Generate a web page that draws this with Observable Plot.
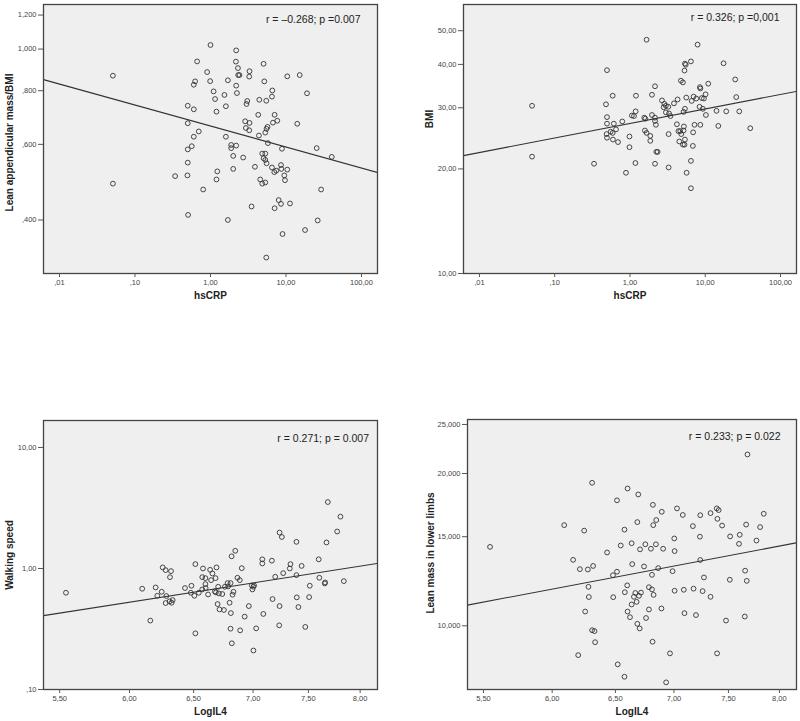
<!DOCTYPE html>
<html><head><meta charset="utf-8">
<script src="https://cdn.jsdelivr.net/npm/d3@7"></script>
<script src="https://cdn.jsdelivr.net/npm/@observablehq/plot@0.6"></script>
<style>
body{margin:0;background:#fff;}
#wrap{position:relative;width:800px;height:721px;font-family:"Liberation Sans",Arial,sans-serif;}
.panel{position:absolute;}
.panel svg{overflow:visible;}
</style></head><body><div id="wrap"></div>
<script>
// ---------- Panel 1: hsCRP vs Lean appendicular mass/BMI ----------
const p1_hsCRP = [0.051,0.051,1.00,2.19,0.665,2.17,0.903,2.31,2.33,2.42,
3.29,3.26,5.05,0.626,0.99,0.601,1.70,2.19,5.16,10.4,
15.2,1.10,2.24,1.53,1.15,6.59,6.52,19.0,4.43,3.07,
3.00,5.48,0.50,0.601,1.60,1.20,4.29,7.07,7.67,2.88,
3.29,6.72,0.50,14.1,2.94,3.26,5.53,5.70,5.32,0.70,
0.601,1.60,4.38,5.76,0.565,0.50,1.88,2.19,1.88,8.85,
25.5,2.00,2.71,4.85,5.32,5.05,5.32,5.53,40.4,0.50,
3.88,6.52,7.43,7.00,8.59,8.67,10.4,2.00,1.23,0.34,
0.495,9.5,1.20,4.56,9.7,4.85,5.32,0.80,29.2,8.0,
8.59,11.3,3.50,7.07,0.505,1.70,26.3,17.9,9.0,5.48];
const p1_leanBMI = [0.867,0.486,1.022,0.993,0.936,0.935,0.884,0.903,0.870,0.870,
0.888,0.863,0.924,0.841,0.842,0.826,0.846,0.822,0.841,0.864,
0.870,0.797,0.790,0.782,0.765,0.801,0.775,0.789,0.762,0.757,
0.745,0.758,0.738,0.724,0.736,0.715,0.703,0.703,0.681,0.679,
0.673,0.674,0.672,0.670,0.655,0.647,0.652,0.659,0.639,0.643,
0.625,0.625,0.629,0.604,0.594,0.584,0.598,0.596,0.588,0.586,
0.588,0.564,0.559,0.571,0.571,0.557,0.552,0.542,0.561,0.544,
0.532,0.530,0.521,0.517,0.537,0.526,0.524,0.526,0.519,0.506,
0.508,0.508,0.497,0.497,0.495,0.486,0.489,0.471,0.471,0.445,
0.436,0.437,0.430,0.426,0.411,0.400,0.399,0.379,0.371,0.327];
const p1_fit = [-0.1792, -0.04888]; // log10(y) = a + b*log10(x)
const p1_note = "r = \u20130.268; p =0.007";

// ---------- Panel 2: hsCRP vs BMI ----------
const p2_hsCRP = [0.050,0.050,1.66,7.91,0.495,5.37,5.5,6.45,5.3,17.5,
4.75,5.05,10.96,25.0,2.15,8.5,8.6,0.589,1.20,1.96,
4.29,5.6,7.0,7.6,9.0,10.1,25.8,6.6,9.6,2.66,
2.86,3.0,3.23,3.84,0.48,2.8,3.0,3.3,3.45,5.37,
5.15,8.4,9.3,10.2,14.1,19.0,28.3,1.13,1.06,1.19,
1.96,1.55,1.6,2.15,2.15,0.495,0.79,0.61,0.495,2.21,
4.2,7.2,8.6,14.9,5.2,0.652,0.554,0.589,0.489,0.495,
39.6,1.58,1.66,1.86,3.26,4.4,4.65,4.8,5.15,6.9,
0.985,0.594,0.693,1.86,4.52,5.37,5.05,5.3,6.85,0.985,
2.24,2.33,0.333,1.18,2.15,6.45,3.26,0.885,5.65,6.45];
const p2_BMI = [30.4,21.7,47.1,45.6,38.5,40.2,39.9,40.8,38.4,40.3,
35.9,35.5,35.2,36.2,34.6,34.4,34.1,32.5,32.5,32.7,
31.7,32.1,32.3,31.9,32.0,32.8,32.2,31.4,31.9,31.5,
30.8,30.4,30.2,30.9,30.7,30.1,29.1,28.9,28.4,29.8,
29.2,30.2,29.8,28.6,29.4,29.3,29.3,28.4,28.5,29.3,
28.6,28.1,27.9,28.1,27.5,28.2,27.4,27.0,27.0,26.8,
26.9,26.8,26.8,26.6,26.5,26.0,25.6,25.4,25.2,24.6,
26.2,25.8,25.4,24.9,25.2,25.7,25.7,25.2,25.8,25.5,
24.8,24.3,23.9,24.1,24.0,24.3,23.5,23.5,23.3,23.1,
22.4,22.4,20.7,20.8,20.7,21.1,20.2,19.5,19.5,17.6];
const p2_fit = [1.4319, 0.04182];
const p2_note = "r = 0.326; p =0,001";

// ---------- Panel 3: LogIL4 vs Walking speed ----------
const p3_logIL4 = [5.543,6.096,6.158,6.199,6.212,6.246,6.254,6.277,6.282,6.277,
6.311,6.319,6.308,6.324,6.332,6.430,6.482,6.477,6.506,6.514,
6.514,6.542,6.570,6.576,6.570,6.596,6.596,6.598,6.618,6.635,
6.643,6.654,6.674,6.683,6.688,6.680,6.702,6.697,6.713,6.708,
6.736,6.750,6.758,6.781,6.786,6.798,6.806,6.806,6.809,6.815,
6.817,6.823,6.831,6.846,6.865,6.885,6.888,6.902,6.927,6.963,
6.989,6.994,7.003,7.009,7.027,7.081,7.081,7.090,7.166,7.172,
7.196,7.235,7.256,7.235,7.232,7.268,7.328,7.334,7.389,7.389,
7.392,7.407,7.437,7.471,7.513,7.507,7.597,7.603,7.655,7.658,
7.671,7.684,7.774,7.806,7.839,7.003];
const p3_walk = [0.630,0.680,0.371,0.697,0.595,0.642,1.02,0.969,0.592,0.518,
0.848,0.951,0.535,0.521,0.548,0.689,0.720,0.630,0.595,1.086,
0.291,0.630,0.671,1.00,0.848,0.832,0.743,0.689,0.610,0.975,
0.801,0.909,0.646,0.634,1.02,0.832,0.706,0.508,0.459,0.622,
0.615,0.454,0.706,0.757,0.711,0.521,0.757,0.318,0.428,1.26,
0.241,0.607,0.642,1.40,0.838,0.801,0.308,1.006,0.400,0.489,
0.724,0.671,0.210,0.724,0.320,1.10,1.19,0.421,1.16,0.559,
0.854,1.98,1.82,0.489,0.339,0.915,1.00,1.086,1.66,0.881,
0.577,0.480,1.05,0.329,0.720,0.580,1.19,0.838,0.752,0.767,
1.64,3.54,2.02,2.68,0.786,0.706];
const p3_fit = [-2.1332, 2.383];
const p3_note = "r = 0.271; p = 0.007";

// ---------- Panel 4: LogIL4 vs Lean mass in lower limbs ----------
const p4_logIL4 = [5.546,6.092,6.161,6.214,6.201,6.248,6.256,6.277,6.282,6.285,
6.311,6.319,6.311,6.330,6.335,6.432,6.480,6.482,6.513,6.513,
6.519,6.544,6.575,6.575,6.578,6.598,6.601,6.601,6.621,6.635,
6.635,6.640,6.654,6.666,6.677,6.683,6.683,6.691,6.697,6.703,
6.706,6.714,6.740,6.751,6.757,6.782,6.782,6.799,6.808,6.808,
6.816,6.819,6.822,6.813,6.842,6.845,6.862,6.890,6.893,6.905,
6.965,6.931,6.988,7.003,7.006,7.006,7.027,7.079,7.088,7.094,
7.170,7.176,7.198,7.234,7.237,7.237,7.259,7.271,7.332,7.332,
7.390,7.396,7.408,7.393,7.440,7.477,7.516,7.513,7.601,7.608,
7.657,7.660,7.670,7.676,7.683,7.771,7.807,7.843];
const p4_leanLimbs = [14.32,15.81,13.50,12.94,8.75,15.42,10.67,12.92,11.94,11.40,
19.17,13.13,9.80,9.76,9.28,13.96,12.59,11.39,12.79,17.70,
8.39,14.41,15.49,7.93,11.65,12.02,18.68,10.67,10.40,11.02,
14.56,13.24,11.41,11.61,11.15,16.03,10.09,18.18,11.46,9.88,
14.16,11.63,13.10,14.49,10.36,10.77,11.92,14.20,12.61,11.80,
17.34,15.81,11.51,9.30,14.49,16.18,13.00,10.82,16.80,14.20,
8.82,7.73,12.82,14.88,14.05,11.73,17.06,16.56,11.78,10.59,
15.74,11.84,10.50,15.00,16.54,13.49,11.71,12.46,16.70,11.41,
17.06,16.27,16.93,8.82,15.78,10.24,15.02,12.33,14.52,15.13,
10.43,12.85,15.85,12.27,21.81,14.74,15.67,16.65];
const p4_fit = [0.5428, 0.6808];
const p4_note = "r = 0.233; p = 0.022";

// ---------- Ticks ----------
const crpTicks = [0.01, 0.1, 1, 10, 100];
const crpTickLabels = [",01", ",10", "1,00", "10,00", "100,00"];
const il4Ticks = [5.5, 6, 6.5, 7, 7.5, 8];
const il4TickLabels = ["5,50", "6,00", "6,50", "7,00", "7,50", "8,00"];
const leanBMITicks = [0.4, 0.6, 0.8, 1.0, 1.2];
const leanBMITickLabels = [",400", ",600", ",800", "1,000", "1,200"];
const bmiTicks = [10, 20, 30, 40, 50];
const bmiTickLabels = ["10,00", "20,00", "30,00", "40,00", "50,00"];
const walkTicks = [0.1, 1, 10];
const walkTickLabels = [",10", "1,00", "10,00"];
const limbTicks = [10, 15, 20, 25];
const limbTickLabels = ["10,000", "15,000", "20,000", "25,000"];

const FONT = '"Liberation Sans", Arial, sans-serif';

function panel(c) {
  const pts = c.xs.map((x, i) => ({x, y: c.ys[i]}));
  const xT = c.xTicks.map((t, i) => ({v: t, label: c.xTickLabels[i]}));
  const yT = c.yTicks.map((t, i) => ({v: t, label: c.yTickLabels[i]}));
  const fitLine = c.xDomain.map(x => ({x, y: Math.pow(10, c.fit[0] + c.fit[1] * Math.log10(x))}));
  const chart = Plot.plot({
    width: c.width, height: c.height,
    marginLeft: c.m[0], marginRight: c.m[1], marginTop: c.m[2], marginBottom: c.m[3],
    style: {fontFamily: FONT, background: "transparent", overflow: "visible"},
    x: {type: "log", domain: c.xDomain, axis: null},
    y: {type: "log", domain: c.yDomain, axis: null},
    marks: [
      Plot.frame({fill: "#efefef", stroke: "none"}),
      Plot.line(fitLine, {x: "x", y: "y", stroke: "#333", strokeWidth: 1.1, clip: true}),
      Plot.dot(pts, {x: "x", y: "y", r: 2.4, stroke: "#333", strokeWidth: 0.9, fill: "none"}),
      Plot.frame({stroke: "#444", strokeWidth: 1.3}),
      Plot.axisX({ticks: c.xTicks, tickFormat: () => "", tickSize: 4, tickPadding: 1, label: null, stroke: "#555"}),
      Plot.axisY({ticks: c.yTicks, tickFormat: () => "", tickSize: 5, tickPadding: 2, label: null, stroke: "#555"}),
      Plot.text(xT, {x: "v", text: "label", frameAnchor: "bottom", dy: 9.5, lineAnchor: "middle",
        fontSize: 7.5, fill: "#444"}),
      Plot.text(yT, {y: "v", text: "label", frameAnchor: "left", dx: -7, textAnchor: "end",
        lineAnchor: "middle", fontSize: 7.5, fill: "#444"}),
      Plot.text([c.xLabel], {text: d => d, frameAnchor: "bottom", dy: 22, fontWeight: "bold",
        fontSize: 10, lineAnchor: "middle", fill: "#222"}),
      Plot.text([c.yLabel], {text: d => d, frameAnchor: "left", rotate: -90, dx: c.yLabelDx, dy: c.yLabelDy,
        fontWeight: "bold", fontSize: 10, textAnchor: "middle", lineAnchor: "middle", fill: "#222"}),
      Plot.text([c.note], {text: d => d, frameAnchor: "top-right", dx: c.noteDx, dy: c.noteDy,
        textAnchor: "end", lineAnchor: "middle", fontSize: 10.5, fill: "#222"})
    ]
  });
  const div = document.createElement("div");
  div.className = "panel";
  div.style.left = c.left + "px";
  div.style.top = c.top + "px";
  div.appendChild(chart);
  document.getElementById("wrap").appendChild(div);
}

panel({left: 0, top: 0, width: 400, height: 310, m: [43, 23, 4, 37],
  xDomain: [0.00614, 163], yDomain: [0.3002, 1.270],
  xs: p1_hsCRP, ys: p1_leanBMI, fit: p1_fit,
  xTicks: crpTicks, xTickLabels: crpTickLabels, yTicks: leanBMITicks, yTickLabels: leanBMITickLabels,
  xLabel: "hsCRP", yLabel: "Lean appendicular mass/BMI", yLabelDx: -34, yLabelDy: 3.5,
  note: p1_note, noteDx: -17, noteDy: 15});

panel({left: 400, top: 0, width: 400, height: 310, m: [63, 4, 4, 37],
  xDomain: [0.00614, 163], yDomain: [10, 59.5],
  xs: p2_hsCRP, ys: p2_BMI, fit: p2_fit,
  xTicks: crpTicks, xTickLabels: crpTickLabels, yTicks: bmiTicks, yTickLabels: bmiTickLabels,
  xLabel: "hsCRP", yLabel: "BMI", yLabelDx: -34, yLabelDy: -20,
  note: p2_note, noteDx: -17, noteDy: 12.7});

panel({left: 0, top: 400, width: 400, height: 321, m: [43, 23, 20, 32],
  xDomain: [5.39, 8.175], yDomain: [0.1, 16.7],
  xs: p3_logIL4, ys: p3_walk, fit: p3_fit,
  xTicks: il4Ticks, xTickLabels: il4TickLabels, yTicks: walkTicks, yTickLabels: walkTickLabels,
  xLabel: "LogIL4", yLabel: "Walking speed", yLabelDx: -33.5, yLabelDy: 0,
  note: p3_note, noteDx: -8.5, noteDy: 18.3});

panel({left: 400, top: 400, width: 400, height: 321, m: [67, 4, 19, 32],
  xDomain: [5.39, 8.175], yDomain: [7.483, 25.57],
  xs: p4_logIL4, ys: p4_leanLimbs, fit: p4_fit,
  xTicks: il4Ticks, xTickLabels: il4TickLabels, yTicks: limbTicks, yTickLabels: limbTickLabels,
  xLabel: "LogIL4", yLabel: "Lean mass in lower limbs", yLabelDx: -37, yLabelDy: -1.5,
  note: p4_note, noteDx: -16, noteDy: 16.7});
</script>
</body></html>
